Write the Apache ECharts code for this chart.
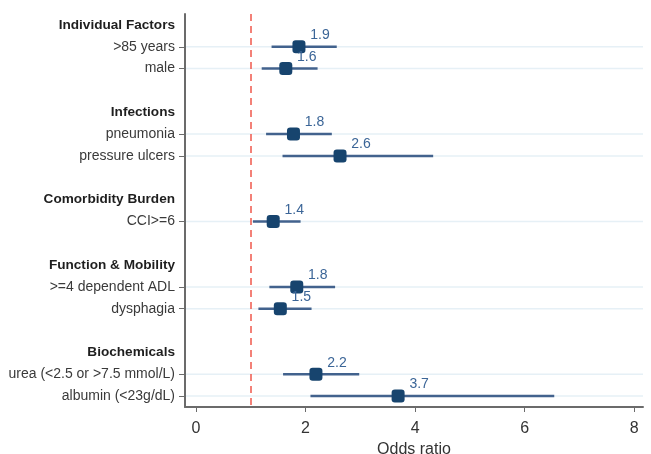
<!DOCTYPE html>
<html>
<head>
<meta charset="utf-8">
<script src="https://cdn.jsdelivr.net/npm/echarts@6/dist/echarts.min.js"></script>
<style>html,body{margin:0;padding:0;background:#fff;}#c{width:651px;height:454px;}</style>
</head>
<body>
<div id="c"></div>
<script>
var categories = ['Individual Factors', '>85 years', 'male', ' ', 'Infections', 'pneumonia', 'pressure ulcers', '  ', 'Comorbidity Burden', 'CCI>=6', '   ', 'Function & Mobility', '>=4 dependent ADL', 'dysphagia', '    ', 'Biochemicals', 'urea (<2.5 or >7.5 mmol/L)', 'albumin (<23g/dL)'];
var headers = ['Individual Factors', 'Infections', 'Comorbidity Burden', 'Function & Mobility', 'Biochemicals'];
var items = ['>85 years', 'male', 'pneumonia', 'pressure ulcers', 'CCI>=6', '>=4 dependent ADL', 'dysphagia', 'urea (<2.5 or >7.5 mmol/L)', 'albumin (<23g/dL)'];
var oddsRatio = [1.88, 1.64, 1.78, 2.63, 1.41, 1.84, 1.54, 2.19, 3.69];
var ciLow = [1.38, 1.20, 1.28, 1.58, 1.04, 1.34, 1.14, 1.59, 2.09];
var ciHigh = [2.57, 2.22, 2.48, 4.33, 1.91, 2.54, 2.11, 2.98, 6.54];
var xTicks = [0, 2, 4, 6, 8];
var refLine = 1;

var itemIdx = items.map(function (n) { return categories.indexOf(n); });
var pointData = items.map(function (n, i) { return [oddsRatio[i], itemIdx[i]]; });
var ciData = items.map(function (n, i) { return [ciLow[i], ciHigh[i], itemIdx[i]]; });
var gridData = itemIdx.map(function (k) { return [0, k]; });
function isItem(idx) { return itemIdx.indexOf(idx) >= 0; }

var FONT = 'Liberation Sans, Arial, sans-serif';
var chart = echarts.init(document.getElementById('c'));
chart.setOption({
  animation: false,
  backgroundColor: '#fff',
  textStyle: { fontFamily: FONT },
  grid: { left: 185, top: 14, right: 8, bottom: 47, containLabel: false, outerBoundsMode: 'none' },
  xAxis: {
    type: 'value', min: -0.2, max: 8.16,
    axisLine: { show: true, onZero: false, lineStyle: { color: '#6b6b6b', width: 2 } },
    axisTick: { show: true, length: 5, customValues: xTicks, lineStyle: { color: '#6b6b6b', width: 1 } },
    axisLabel: { customValues: xTicks, margin: 14, fontSize: 16, color: '#333', fontFamily: FONT },
    splitLine: { show: false },
    name: 'Odds ratio', nameLocation: 'middle', nameGap: 28,
    nameTextStyle: { fontSize: 16, color: '#333', fontFamily: FONT }
  },
  yAxis: {
    type: 'category', inverse: true, data: categories,
    axisLine: { show: true, onZero: false, lineStyle: { color: '#6b6b6b', width: 2 } },
    axisTick: { show: true, alignWithLabel: true, length: 6, interval: function (idx) { return isItem(idx); }, lineStyle: { color: '#6b6b6b', width: 1 } },
    axisLabel: {
      interval: 0, margin: 10, fontSize: 14, color: '#3a3a3a',
      formatter: function (v) { return headers.indexOf(v) >= 0 ? '{h|' + v + '}' : '{n|' + v + '}'; },
      rich: {
        h: { fontWeight: 'bold', fontSize: 13.6, color: '#1e1e1e', fontFamily: FONT },
        n: { fontSize: 14, color: '#3a3a3a', fontFamily: FONT }
      }
    },
    splitLine: { show: false }
  },
  series: [
    {
      type: 'custom', silent: true, z: 1,
      data: gridData,
      renderItem: function (params, api) {
        var y = api.coord([0, api.value(1)])[1];
        var cs = params.coordSys;
        return { type: 'line', shape: { x1: cs.x + 1, y1: y, x2: cs.x + cs.width, y2: y }, style: { stroke: '#e6f0f6', lineWidth: 1.5 } };
      }
    },
    {
      type: 'custom', silent: true, z: 3,
      data: ciData,
      renderItem: function (params, api) {
        var p1 = api.coord([api.value(0), api.value(2)]);
        var p2 = api.coord([api.value(1), api.value(2)]);
        return { type: 'line', shape: { x1: p1[0], y1: p1[1], x2: p2[0], y2: p2[1] }, style: { stroke: '#42628d', lineWidth: 2.5 } };
      },
      encode: { x: [0, 1], y: 2 }
    },
    {
      type: 'scatter', z: 4,
      symbol: 'roundRect', symbolSize: 13,
      itemStyle: { color: '#17446e', opacity: 1 },
      data: pointData,
      label: {
        show: true, position: 'top', distance: 0, offset: [21, 2],
        fontSize: 14, color: '#3b6597',
        formatter: function (p) { return p.value[0].toFixed(1); }
      },
      markLine: {
        silent: true, symbol: ['none', 'none'], label: { show: false },
        lineStyle: { color: '#f0584c', type: [7, 5], width: 1.5 },
        data: [{ xAxis: refLine }]
      }
    }
  ]
});
</script>
</body>
</html>
